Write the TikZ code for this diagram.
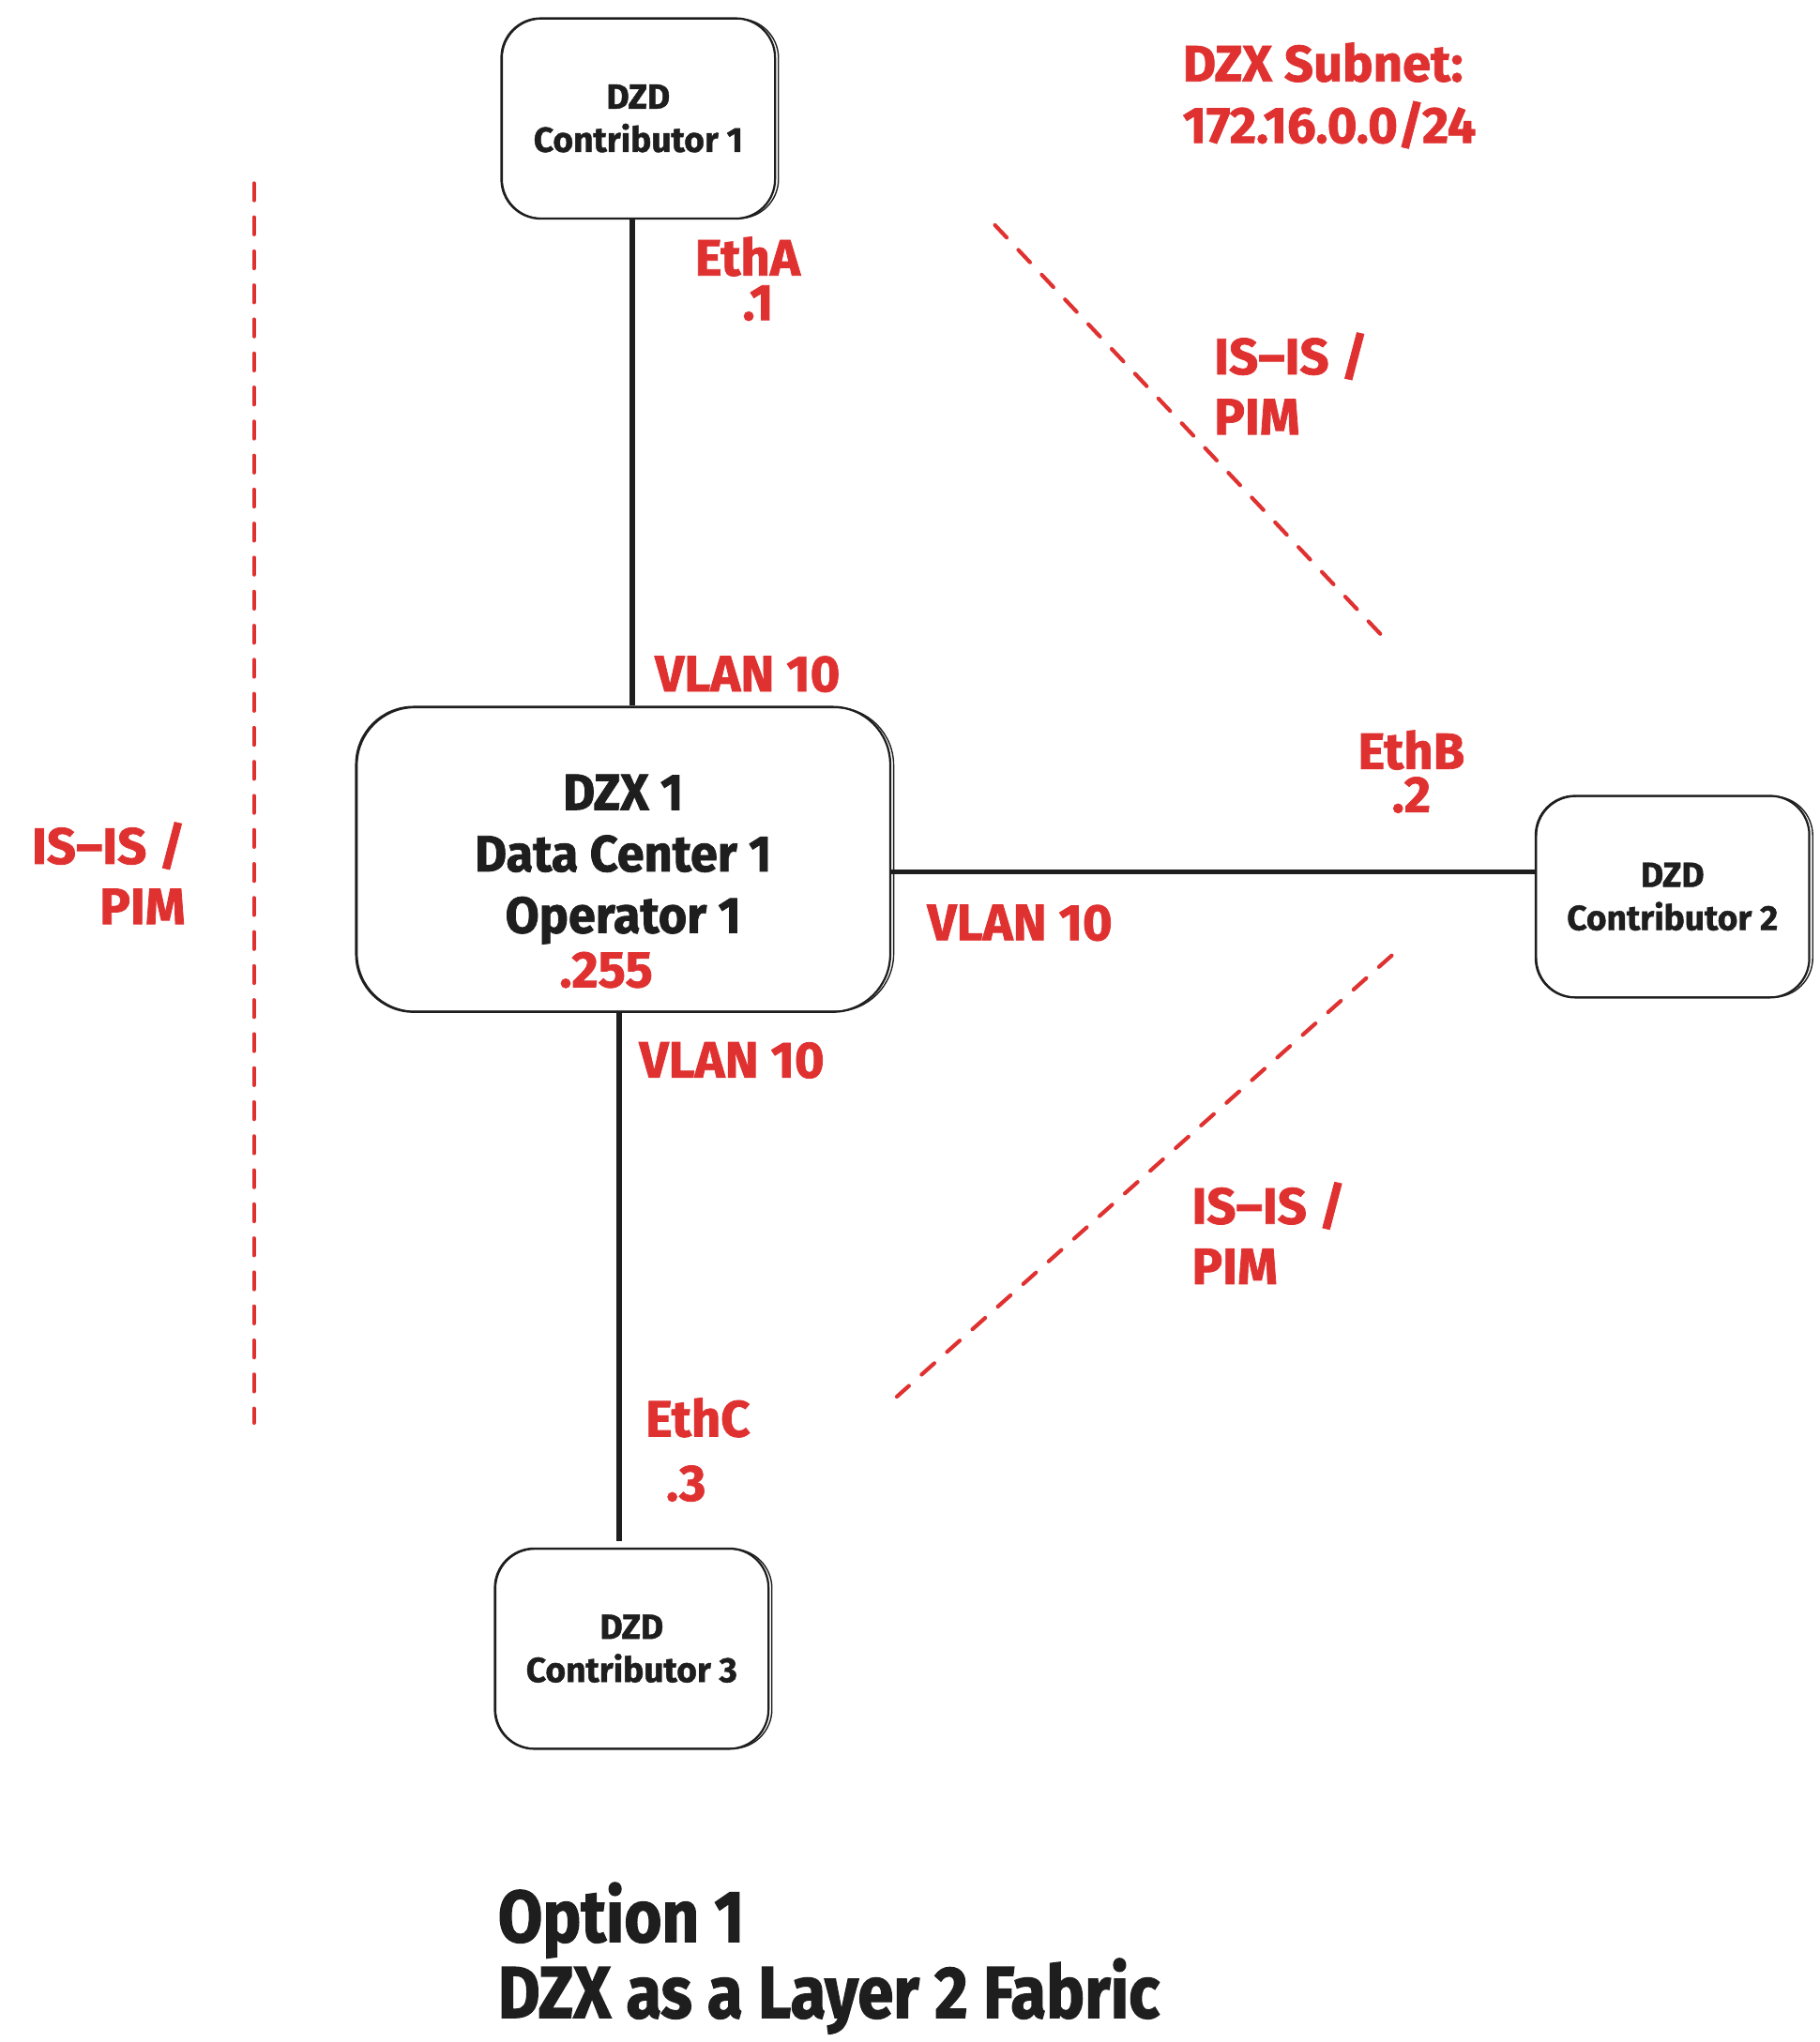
\documentclass[tikz,border=0pt]{standalone}
\usepackage{fontspec}
\setmainfont{Fira Sans}[UprightFont={* Bold}, BoldFont={* Bold}]
\newfontfamily\fsmall{Fira Sans}[UprightFont={* Bold}, FakeStretch=1.0, FakeBold=1.2]
\newfontfamily\fred{Fira Sans}[UprightFont={* Bold}, FakeStretch=1.0, FakeBold=1.4]
\newfontfamily\fdzx{Fira Sans}[UprightFont={* Bold}, FakeStretch=0.96, FakeBold=1.4]
\newfontfamily\ftitle{Fira Sans}[UprightFont={* Bold}, FakeStretch=0.88, FakeBold=1.6]
\definecolor{ink}{HTML}{1E1E1E}
\definecolor{redA}{HTML}{E03131}
\begin{document}
\begin{tikzpicture}[x=0.5pt,y=-0.5pt,
  box/.style={draw=ink, line width=0.8pt, rounded corners=15pt, align=center, inner sep=0pt, text=ink},
  sketch/.style={draw=ink, line width=0.5pt, rounded corners=15pt},
  boxtxt/.style={font=\fsmall\fontsize{13.3}{16.5}\selectfont},
  bigtxt/.style={font=\fdzx\fontsize{19.5}{23.5}\selectfont},
  lbl/.style={text=redA, inner sep=0pt, align=left},
  rtxt/.style={font=\fred\fontsize{19.5}{23}\selectfont},
  link/.style={draw=ink, line width=2pt},
  dsh/.style={draw=redA, line width=1.5pt, dash pattern=on 6.5pt off 6.5pt, line cap=round},
]
\useasboundingbox (0,0) rectangle (1390,1560);
% boxes
\node[box, boxtxt, minimum width=104.5pt, minimum height=76.5pt] (c1) at (487.5,90.5) {DZD\\Contributor 1};
\node[box, bigtxt, minimum width=204pt, minimum height=116.5pt, rounded corners=22pt] (dzx) at (476,656.5) {DZX 1\\Data Center 1\\Operator 1};
\node[box, boxtxt, minimum width=104.5pt, minimum height=77pt] (c2) at (1277.5,685) {DZD\\Contributor 2};
\node[box, boxtxt, minimum width=104.5pt, minimum height=76.5pt] (c3) at (482.5,1259.5) {DZD\\Contributor 3};
% sketchy second strokes
\draw[sketch] ([shift={(0.7pt,0.5pt)}]c1.south west) rectangle ([shift={(0.9pt,-0.6pt)}]c1.north east);
\draw[sketch, rounded corners=22pt] ([shift={(0.8pt,0.6pt)}]dzx.south west) rectangle ([shift={(0.9pt,-0.7pt)}]dzx.north east);
\draw[sketch] ([shift={(0.7pt,0.5pt)}]c2.south west) rectangle ([shift={(0.9pt,-0.6pt)}]c2.north east);
\draw[sketch] ([shift={(0.7pt,0.5pt)}]c3.south west) rectangle ([shift={(0.9pt,-0.6pt)}]c3.north east);
% links
\draw[link] ([xshift=-2.25pt]c1.south) coordinate (t1) -- (t1 |- dzx.north);
\draw[link] ([yshift=-4.75pt]dzx.east) coordinate (h1) -- (h1 -| c2.west);
\draw[link] ([xshift=-1.5pt]dzx.south) coordinate (b1) -- ([yshift=2.5pt]b1 |- c3.north);
% dashed separators
\coordinate (dl1) at (194,140); \coordinate (dl2) at (194,1087);
\coordinate (dt1) at (760,172); \coordinate (dt2) at (1055,485);
\coordinate (db1) at (1063,730); \coordinate (db2) at (685,1067);
\draw[dsh] (dl1) -- (dl2);
\draw[dsh] (dt1) -- (dt2);
\draw[dsh] (db1) -- (db2);
% labels
\node[lbl, rtxt, anchor=west, font=\fred\fontsize{19.5}{23.5}\selectfont] (subnet) at (903,73) {DZX Subnet:\\172.16.0.0/24};
\node[lbl, rtxt, align=center, font=\fred\fontsize{19.5}{17}\selectfont] (etha) at (571,213) {EthA\\\hspace*{8pt}.1};
\node[lbl, rtxt, anchor=west] (isis1) at (927,293) {IS–IS /\\PIM};
\node[lbl, rtxt, anchor=west] (vlan1) at (500,515) {VLAN 10};
\node[lbl, rtxt, align=center, font=\fred\fontsize{19.5}{16.5}\selectfont] (ethb) at (1078,589.5) {EthB\\.2};
\node[lbl, rtxt, anchor=west] (vlan2) at (708,705) {VLAN 10};
\node[lbl, rtxt] (ip255) at (463,741) {.255};
\node[lbl, rtxt, anchor=west] (vlan3) at (488,810) {VLAN 10};
\node[lbl, rtxt, anchor=west] (isis2) at (910,942) {IS–IS /\\PIM};
\node[lbl, rtxt, align=center, font=\fred\fontsize{19.5}{24.5}\selectfont] (ethc) at (533,1107.5) {EthC\\\hspace*{-9pt}.3};
\node[lbl, rtxt, anchor=east, align=right] (isis3) at (142,667) {IS–IS /\\PIM};
\node[inner sep=0pt, anchor=west, align=left, text=ink, font=\ftitle\fontsize{28}{29}\selectfont] (title) at (380,1496) {Option 1\\DZX as a Layer 2 Fabric};
\end{tikzpicture}
\end{document}
